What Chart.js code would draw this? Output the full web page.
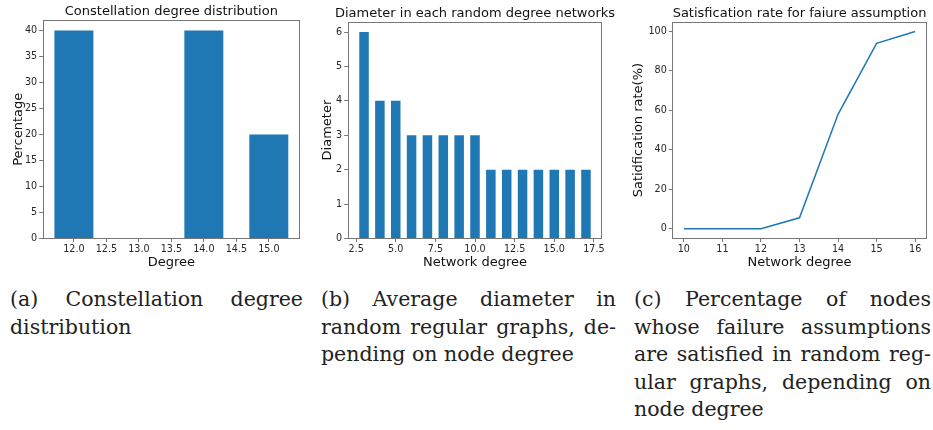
<!DOCTYPE html>
<html>
<head>
<meta charset="utf-8">
<script src="https://cdn.jsdelivr.net/npm/chart.js@4/dist/chart.umd.min.js"></script>
<style>
body { margin: 0; background: #fff; width: 933px; height: 430px; position: relative; overflow: hidden; }
.painel { position: absolute; top: 0; height: 270px; }
.legenda { position: absolute; top: 286px; font-family: "DejaVu Serif", serif; font-size: 20.5px; line-height: 27.5px; color: #222; }
.legenda div { text-align: justify; text-align-last: justify; white-space: nowrap; }
.legenda div.ultima { text-align: left; text-align-last: left; }
</style>
</head>
<body>

<div class="painel" style="left:0;width:310px"><canvas id="graficoA" width="310" height="270"></canvas></div>
<div class="painel" style="left:310px;width:310px"><canvas id="graficoB" width="310" height="270"></canvas></div>
<div class="painel" style="left:620px;width:313px"><canvas id="graficoC" width="313" height="270"></canvas></div>

<div class="legenda" style="left:10px;width:293px">
    <div>(a) Constellation degree</div>
    <div class="ultima">distribution</div>
</div>
<div class="legenda" style="left:321px;width:295px">
    <div>(b) Average diameter in</div>
    <div>random regular graphs, de-</div>
    <div class="ultima">pending on node degree</div>
</div>
<div class="legenda" style="left:634px;width:297px">
    <div>(c) Percentage of nodes</div>
    <div>whose failure assumptions</div>
    <div>are satisfied in random reg-</div>
    <div>ular graphs, depending on</div>
    <div class="ultima">node degree</div>
</div>

<script>
// Dados do gráfico (a)
const grausA = [12, 14, 15];
const porcentagemA = [40, 40, 20];
const ticksXA = [12, 12.5, 13, 13.5, 14, 14.5, 15];
const ticksYA = [0, 5, 10, 15, 20, 25, 30, 35, 40];

// Dados do gráfico (b)
const grausB = [3, 4, 5, 6, 7, 8, 9, 10, 11, 12, 13, 14, 15, 16, 17];
const diametroB = [6, 4, 4, 3, 3, 3, 3, 3, 2, 2, 2, 2, 2, 2, 2];
const ticksXB = [2.5, 5, 7.5, 10, 12.5, 15, 17.5];
const ticksYB = [0, 1, 2, 3, 4, 5, 6];

// Dados do gráfico (c)
const grausC = [10, 11, 12, 13, 14, 15, 16];
const taxaC = [0, 0, 0, 5.5, 58, 94, 100];
const ticksXC = [10, 11, 12, 13, 14, 15, 16];
const ticksYC = [0, 20, 40, 60, 80, 100];

const azul = "#1f77b4";
const corTexto = "#262626";
const fonteSans = "DejaVu Sans";

// Moldura completa + título centrado na área do gráfico
const pluginMoldura = {
    id: "moldura",
    afterDraw(chart, args, opts) {
        const { ctx, chartArea } = chart;
        ctx.save();
        ctx.strokeStyle = "#777";
        ctx.lineWidth = 1;
        const l = Math.round(chartArea.left) + 0.5;
        const t = Math.round(chartArea.top) + 0.5;
        const r = Math.round(chartArea.right) - 0.5;
        const b = Math.round(chartArea.bottom) - 0.5;
        ctx.strokeRect(l, t, r - l, b - t);
        ctx.fillStyle = "#111";
        ctx.font = "13px " + fonteSans;
        ctx.textAlign = "center";
        ctx.textBaseline = "alphabetic";
        ctx.fillText(opts.texto, (chartArea.left + chartArea.right) / 2, chartArea.top - 5);
        ctx.restore();
    }
};

function montarEixos(cfg) {
    const fixar = (lista) => (scale) => {
        scale.ticks = lista.map((v) => ({ value: v }));
    };
    return {
        x: {
            type: "linear",
            min: cfg.xMin,
            max: cfg.xMax,
            offset: false,
            afterBuildTicks: fixar(cfg.ticksX),
            afterFit: (scale) => { scale.height = 31.5; },
            grid: { offset: false, drawOnChartArea: false, drawTicks: true, tickLength: 3.5, tickColor: "#555", tickWidth: 0.8 },
            border: { display: false },
            ticks: {
                padding: 2,
                maxRotation: 0,
                autoSkip: false,
                color: corTexto,
                font: { family: fonteSans, size: 9.6 },
                callback: cfg.formatoX
            },
            title: {
                display: true,
                text: cfg.tituloX,
                color: "#111",
                font: { family: fonteSans, size: 13 },
                padding: { top: 0, bottom: 0 }
            }
        },
        y: {
            type: "linear",
            min: cfg.yMin,
            max: cfg.yMax,
            afterBuildTicks: fixar(cfg.ticksY),
            afterFit: (scale) => { scale.width = cfg.larguraY; },
            grid: { drawOnChartArea: false, drawTicks: true, tickLength: 3.5, tickColor: "#555", tickWidth: 0.8 },
            border: { display: false },
            ticks: {
                padding: 2,
                color: corTexto,
                font: { family: fonteSans, size: 9.6 },
                callback: (v) => String(v)
            },
            title: {
                display: true,
                text: cfg.tituloY,
                color: "#111",
                font: { family: fonteSans, size: 13 },
                padding: { top: cfg.padTituloY, bottom: 0 }
            }
        }
    };
}

function opcoesBase(cfg) {
    return {
        responsive: false,
        animation: false,
        devicePixelRatio: 1,
        layout: { padding: { top: cfg.topo, right: cfg.direita, bottom: 0, left: 0 } },
        plugins: {
            legend: { display: false },
            tooltip: { enabled: false },
            moldura: { texto: cfg.titulo }
        },
        scales: montarEixos(cfg)
    };
}

// Gráfico (a) - distribuição de graus
new Chart(document.getElementById("graficoA").getContext("2d"), {
    type: "bar",
    data: {
        datasets: [{
            data: grausA.map((g, i) => ({ x: g, y: porcentagemA[i] })),
            backgroundColor: azul,
            borderWidth: 0,
            categoryPercentage: 1,
            // ticks a cada 0.5 viram o menor intervalo -> 1.2 * 0.5 = 0.6 de largura
            barPercentage: 1.2
        }]
    },
    options: opcoesBase({
        titulo: "Constellation degree distribution",
        topo: 20, direita: 10, larguraY: 42.7,
        xMin: 11.52, xMax: 15.48, yMin: 0, yMax: 42,
        ticksX: ticksXA, ticksY: ticksYA,
        formatoX: (v) => Number(v).toFixed(1),
        tituloX: "Degree", tituloY: "Percentage",
        padTituloY: 10.5
    }),
    plugins: [pluginMoldura]
});

// Gráfico (b) - diâmetro
new Chart(document.getElementById("graficoB").getContext("2d"), {
    type: "bar",
    data: {
        datasets: [{
            data: grausB.map((g, i) => ({ x: g, y: diametroB[i] })),
            backgroundColor: azul,
            borderWidth: 0,
            categoryPercentage: 1,
            barPercentage: 0.6
        }]
    },
    options: opcoesBase({
        titulo: "Diameter in each random degree networks",
        topo: 21.7, direita: 17.7, larguraY: 37.7,
        xMin: 1.97, xMax: 18.03, yMin: 0, yMax: 6.3,
        ticksX: ticksXB, ticksY: ticksYB,
        formatoX: (v) => Number(v).toFixed(1),
        tituloX: "Network degree", tituloY: "Diameter",
        padTituloY: 9.5
    }),
    plugins: [pluginMoldura]
});

// Gráfico (c) - taxa de satisfação
new Chart(document.getElementById("graficoC").getContext("2d"), {
    type: "line",
    data: {
        datasets: [{
            data: grausC.map((g, i) => ({ x: g, y: taxaC[i] })),
            borderColor: azul,
            borderWidth: 1.5,
            pointRadius: 0,
            tension: 0,
            fill: false
        }]
    },
    options: opcoesBase({
        titulo: "Satisfication rate for faiure assumption",
        topo: 21.7, direita: 6.3, larguraY: 52.3,
        xMin: 9.7, xMax: 16.3, yMin: -5, yMax: 105,
        ticksX: ticksXC, ticksY: ticksYC,
        formatoX: (v) => String(v),
        tituloX: "Network degree", tituloY: "Satidfication rate(%)",
        padTituloY: 10.5
    }),
    plugins: [pluginMoldura]
});
</script>
</body>
</html>
